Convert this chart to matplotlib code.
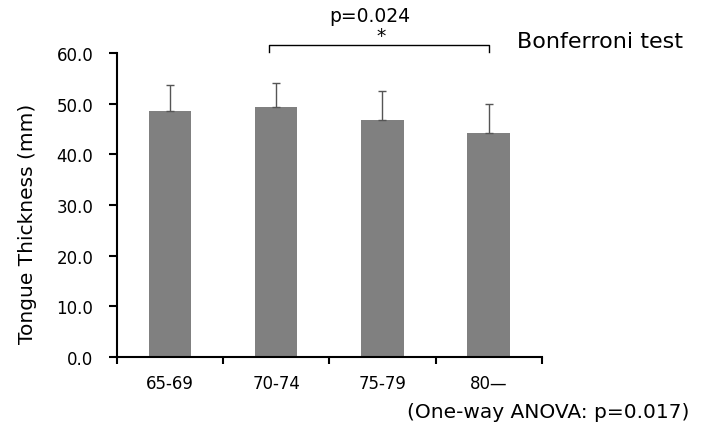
import matplotlib
matplotlib.use("Agg")
import matplotlib.pyplot as plt

categories = ["65-69", "70-74", "75-79", "80\u2014"]
means = [48.5, 49.4, 46.7, 44.2]
sd_upper = [5.1, 4.6, 5.8, 5.7]
yticks = [0, 10, 20, 30, 40, 50, 60]

plt.rcParams['font.family'] = ['DejaVu Sans']

fig = plt.figure(figsize=(7.12, 4.31), dpi=100)
ax = fig.add_axes([0.164, 0.169, 0.597, 0.706])

x = list(range(len(categories)))
ax.bar(x, means, width=0.4, color="#808080", zorder=2)
ax.errorbar(x, means, yerr=[[0]*len(means), sd_upper], fmt="none",
            ecolor="#555555", elinewidth=1.0, capsize=3, capthick=1.0, zorder=3)

ax.set_xlim(-0.5, len(categories) - 0.5)
ax.set_ylim(0, 60)
ax.set_yticks(yticks)
ax.set_yticklabels([f"{v:.1f}" for v in yticks], fontsize=12)
ax.set_xticks(x)
ax.set_xticklabels(categories, fontsize=12)
ax.tick_params(axis="x", which="major", length=0, pad=12)
ax.set_xticks([i - 0.5 for i in range(len(categories) + 1)], minor=True)
ax.tick_params(axis="x", which="minor", length=5, width=1.5, direction="out")
ax.tick_params(axis="y", length=6, width=1.5, direction="out", pad=11)

for s in ["top", "right"]:
    ax.spines[s].set_visible(False)
for s in ["left", "bottom"]:
    ax.spines[s].set_linewidth(1.5)

fig.text(0.0386, 0.480, "Tongue Thickness (mm)", rotation=90,
         ha="center", va="center", fontsize=14.5)

# significance bracket
bx0, bx1, by, bdrop = 0.93, 3.0, 61.6, 1.4
ax.plot([bx0, bx0, bx1, bx1], [by - bdrop, by, by, by - bdrop],
        color="black", lw=1.0, clip_on=False)
ax.text(1.88, 67.3, "p=0.024", ha="center", va="center", fontsize=13.5)
ax.text(1.99, 63.5, "*", ha="center", va="center", fontsize=13.5)

fig.text(0.726, 0.902, "Bonferroni test", ha="left", va="center", fontsize=16)
fig.text(0.572, 0.044, "(One-way ANOVA: p=0.017)", ha="left", va="center", fontsize=14.5)

fig.savefig("out.png", dpi=100)
